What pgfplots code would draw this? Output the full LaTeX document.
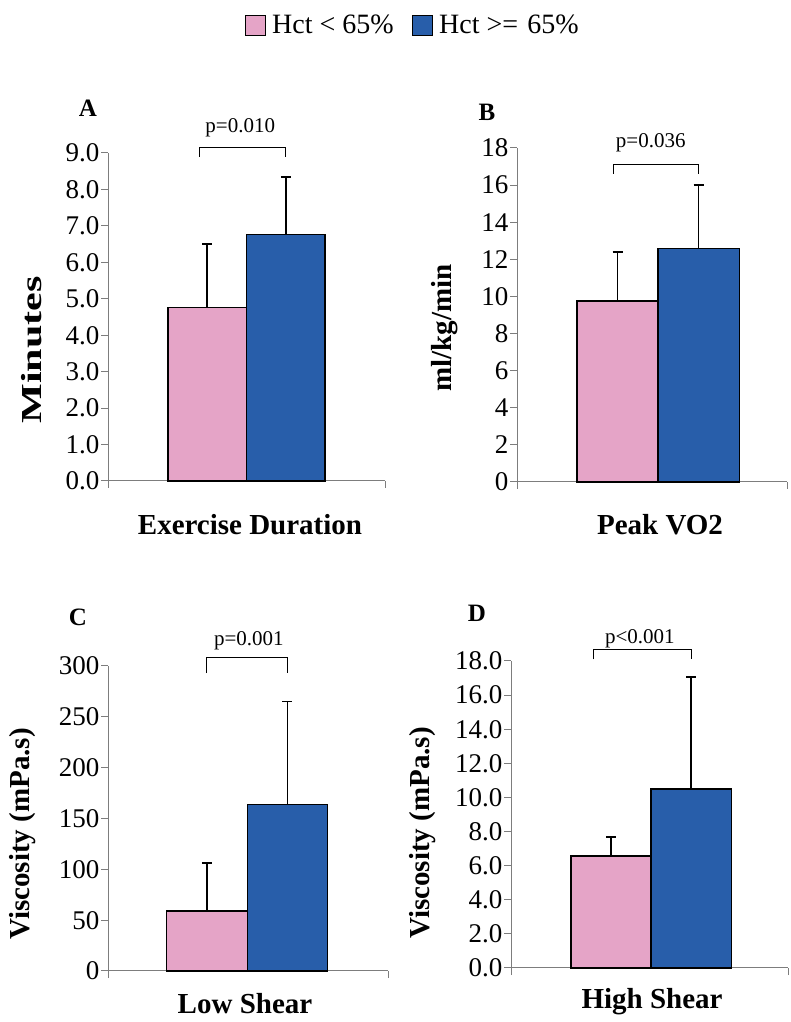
\documentclass[border=0pt]{standalone}
\usepackage{fontspec}
\setmainfont{Liberation Serif}
\usepackage{pgfplots}
\pgfplotsset{compat=1.18}
\definecolor{hpink}{RGB}{229,164,199}
\definecolor{hblue}{RGB}{40,94,170}
\definecolor{axgray}{RGB}{125,125,125}
\pgfplotsset{
  panel/.style={
    scale only axis, anchor=south west, clip=false,
    axis x line*=bottom, axis y line*=left,
    axis line style={axgray, line width=1pt},
    every tick/.style={axgray, line width=1pt},
    tick align=outside, major tick length=7pt,
    xticklabels={}, ymin=0,
    yticklabel style={font=\fontsize{27}{27}\selectfont, inner sep=1.5pt},
    /pgf/number format/assume math mode=true,
  },
  pinkbar/.style={ybar, bar width=1, bar shift=0, fill=hpink, draw=black, line width=1.3pt,
    error bars/.cd, y dir=plus, y explicit,
    error bar style={black, line width=1.7pt},
    error mark options={black, line width=1.7pt, mark size=5pt, rotate=90}},
  bluebar/.style={ybar, bar width=1, bar shift=0, fill=hblue, draw=black, line width=1.3pt,
    error bars/.cd, y dir=plus, y explicit,
    error bar style={black, line width=1.7pt},
    error mark options={black, line width=1.7pt, mark size=5pt, rotate=90}},
}
\begin{document}
\begin{tikzpicture}[x=1pt,y=1pt]
\path[use as bounding box] (0,0) rectangle (790,1022);

% Panel A
\begin{axis}[panel, at={(108pt,541pt)}, width=277pt, height=328pt,
  xmin=-1.764, xmax=1.764, xtick={-1.764,1.764}, ymax=9, ytick={0,1,...,9},
  yticklabel style={/pgf/number format/.cd, fixed, fixed zerofill, precision=1},
  legend style={at={(1.1,1.39)}, anchor=center, draw=none, fill=none,
    font=\fontsize{28}{28}\selectfont, legend columns=2,
    /tikz/every even column/.append style={column sep=16pt}},
  legend image code/.code={\draw[#1, draw=black, line width=1pt] (0pt,-10pt) rectangle (20pt,10pt); \path[draw=none, fill=none] (20pt,0pt) -- (25pt,0pt);}]
\addplot[pinkbar] coordinates {(-0.5,4.77) +- (0,1.74)};
\addlegendentry{Hct < 65\%}
\addplot[bluebar] coordinates {(0.5,6.76) +- (0,1.59)};
\addlegendentry{Hct >=\,\,65\%}
\draw[black, line width=1pt] (axis cs:-0.6,8.9) -- (axis cs:-0.6,9.15) -- (axis cs:0.5,9.15) -- (axis cs:0.5,8.9);
\node[font=\fontsize{21}{21}\selectfont] at (axis cs:-0.08,9.7) {p=0.010};
\end{axis}

% Panel B
\begin{axis}[panel, at={(517pt,540pt)}, width=270pt, height=334pt,
  xmin=-1.74, xmax=1.59, xtick={-1.74,1.59}, ymax=18, ytick={0,2,...,18}]
\addplot[pinkbar] coordinates {(-0.5,9.75) +- (0,2.65)};
\addplot[bluebar] coordinates {(0.5,12.6) +- (0,3.4)};
\draw[black, line width=1pt] (axis cs:-0.55,16.6) -- (axis cs:-0.55,17.1) -- (axis cs:0.5,17.1) -- (axis cs:0.5,16.6);
\node[font=\fontsize{21}{21}\selectfont] at (axis cs:-0.09,18.3) {p=0.036};
\end{axis}

% Panel C
\begin{axis}[panel, at={(108pt,51pt)}, width=280pt, height=305pt,
  xmin=-1.73, xmax=1.75, xtick={-1.73,1.75}, ymax=300, ytick={0,50,...,300}]
\addplot[pinkbar] coordinates {(-0.5,59) +- (0,47)};
\addplot[bluebar] coordinates {(0.5,164) +- (0,101)};
\draw[black, line width=1pt] (axis cs:-0.5,293) -- (axis cs:-0.5,308) -- (axis cs:0.5,308) -- (axis cs:0.5,293);
\node[font=\fontsize{21}{21}\selectfont] at (axis cs:0.02,325) {p=0.001};
\end{axis}

% Panel D
\begin{axis}[panel, at={(511pt,54pt)}, width=277pt, height=307pt,
  xmin=-1.75, xmax=1.71, xtick={-1.75,1.71}, ymax=18, ytick={0,2,...,18},
  yticklabel style={/pgf/number format/.cd, fixed, fixed zerofill, precision=1}]
\addplot[pinkbar] coordinates {(-0.5,6.57) +- (0,1.11)};
\addplot[bluebar] coordinates {(0.5,10.5) +- (0,6.56)};
\draw[black, line width=1pt] (axis cs:-0.72,18.1) -- (axis cs:-0.72,18.7) -- (axis cs:0.5,18.7) -- (axis cs:0.5,18.1);
\node[font=\fontsize{21}{21}\selectfont] at (axis cs:-0.14,19.3) {p<0.001};
\end{axis}

% panel letters
\node[font=\fontsize{25}{25}\selectfont\bfseries] at (88,914) {A};
\node[font=\fontsize{25}{25}\selectfont\bfseries] at (487,910) {B};
\node[font=\fontsize{25}{25}\selectfont\bfseries] at (78,405) {C};
\node[font=\fontsize{25}{25}\selectfont\bfseries] at (477,409) {D};

% axis labels
\node[font=\fontsize{29}{29}\selectfont\bfseries] at (250,497) {Exercise Duration};
\node[font=\fontsize{29}{29}\selectfont\bfseries] at (660,497) {Peak VO2};
\node[font=\fontsize{29}{29}\selectfont\bfseries] at (245,18) {Low Shear};
\node[font=\fontsize{29}{29}\selectfont\bfseries] at (652,20) {High Shear};
\node[font=\fontsize{29}{29}\selectfont\bfseries, rotate=90] at (32,672) {\scalebox{1.45}[1]{Minutes}};
\node[font=\fontsize{29}{29}\selectfont\bfseries, rotate=90] at (445,694) {ml/kg/min};
\node[font=\fontsize{29}{29}\selectfont\bfseries, rotate=90] at (23,188) {Viscosity (mPa.s)};
\node[font=\fontsize{29}{29}\selectfont\bfseries, rotate=90] at (423,189) {Viscosity (mPa.s)};
\end{tikzpicture}
\end{document}
